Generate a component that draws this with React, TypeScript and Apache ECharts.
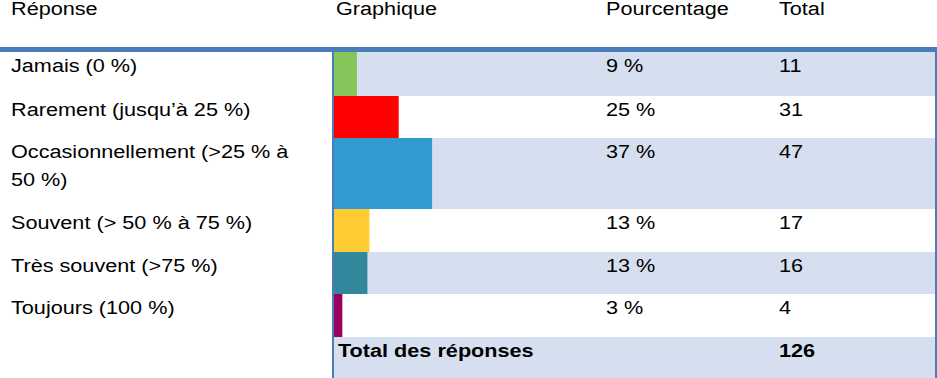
import React, { useEffect, useRef } from "react";
import * as echarts from "echarts";

// ---- data ----
const headers = ["Réponse", "Graphique", "Pourcentage", "Total"];
const responses = [
  "Jamais (0 %)",
  "Rarement (jusqu’à 25 %)",
  "Occasionnellement (>25 % à\n50 %)",
  "Souvent (> 50 % à 75 %)",
  "Très souvent (>75 %)",
  "Toujours (100 %)",
];
const percentLabels = ["9 %", "25 %", "37 %", "13 %", "13 %", "3 %"];
const totals = [11, 31, 47, 17, 16, 4];
const totalLabel = "Total des réponses";
const totalResponses = 126;
const barColors = ["#85C65A", "#FF0000", "#319BCF", "#FFCD33", "#31879B", "#99005F"];

// ---- layout / style ----
const ROW_HEIGHTS = [44, 42, 71, 43, 42, 43, 41];
const ROW_TOPS = ROW_HEIGHTS.map((_, i) => ROW_HEIGHTS.slice(0, i).reduce((a, b) => a + b, 0));
const TABLE_TOP = 52;
const TABLE_HEIGHT = ROW_HEIGHTS.reduce((a, b) => a + b, 0);
const COL_LABEL_X = 11;
const COL_GRAPH_X = 334;
const COL_PCT_X = 606;
const COL_TOTAL_X = 779;
const GRAPH_WIDTH = 263;
const BAND = "#D5DFEF";
const LINE = "#4A7EBA";
const FONT = '"Liberation Sans", Arial, sans-serif';
const FS = 19;
const SX = 1.14; // horizontal stretch of the reference's text
const BASE = 20.5; // baseline offset from row top
const LINE_H = 28;
const MID = 6.6; // baseline -> middle

export default function App() {
  const ref = useRef<HTMLDivElement>(null);
  useEffect(() => {
    if (!ref.current) return;
    const chart = echarts.init(ref.current, undefined, { renderer: "svg" });
    const data = responses.map((_, i) => [(totals[i] / totalResponses) * 100, i]);
    data.push([0, responses.length]);

    const txt = (x: number, y: number, text: string, bold = false, z?: number) => ({
      type: "text",
      x,
      y,
      scaleX: SX,
      scaleY: 1,
      ...(z !== undefined ? { z } : {}),
      style: {
        text,
        fill: "#000",
        fontSize: FS,
        lineHeight: 17,
        fontFamily: FONT,
        fontWeight: bold ? "bold" : "normal",
        align: "left",
        verticalAlign: "middle",
      },
    });

    const option: any = {
      animation: false,
      grid: { left: COL_GRAPH_X, top: TABLE_TOP, width: GRAPH_WIDTH, height: TABLE_HEIGHT, containLabel: false },
      xAxis: { type: "value", min: 0, max: 100, show: false },
      yAxis: { type: "value", min: 0, max: TABLE_HEIGHT, inverse: true, show: false },
      series: [
        {
          type: "custom",
          clip: false,
          data,
          renderItem: (params: any, api: any) => {
            const v = api.value(0);
            const i = api.value(1);
            const top = ROW_TOPS[i];
            const h = ROW_HEIGHTS[i];
            const p0 = api.coord([0, top]);
            const p1 = api.coord([v, top + h]);
            const W = api.getWidth();
            const children: any[] = [];
            if (i % 2 === 0) {
              children.push({
                type: "rect",
                shape: { x: p0[0], y: p0[1], width: W - 2 - p0[0], height: p1[1] - p0[1] },
                style: { fill: BAND },
              });
            }
            const baseY = p0[1] + BASE - MID;
            if (i < responses.length) {
              children.push({
                type: "rect",
                shape: { x: p0[0], y: p0[1], width: p1[0] - p0[0], height: p1[1] - p0[1] },
                style: { fill: barColors[i] },
              });
              responses[i].split("\n").forEach((line, k) => {
                children.push(txt(COL_LABEL_X, baseY + k * LINE_H, line));
              });
              children.push(txt(COL_PCT_X, baseY, percentLabels[i]));
              children.push(txt(COL_TOTAL_X, baseY, String(totals[i])));
            } else {
              children.push(txt(COL_GRAPH_X + 4, baseY, totalLabel, true));
              children.push(txt(COL_TOTAL_X, baseY, String(totalResponses), true));
            }
            return { type: "group", children };
          },
        },
      ],
      graphic: [
        ...headers.map((h, k) =>
          txt([COL_LABEL_X, COL_GRAPH_X + 2, COL_PCT_X, COL_TOTAL_X][k], 15.5 - MID, h, false, 10)
        ),
        { type: "rect", z: 100, shape: { x: 0, y: 47, width: 937, height: 5 }, style: { fill: LINE } },
        { type: "rect", z: 100, shape: { x: 935, y: 47, width: 2, height: 331 }, style: { fill: LINE } },
        { type: "rect", z: 100, shape: { x: 332, y: 52, width: 2, height: 326 }, style: { fill: LINE } },
      ],
    };
    chart.setOption(option);
    return () => chart.dispose();
  }, []);
  return (
    <div
      ref={ref}
      style={{ position: "fixed", left: 0, top: 0, width: 937, height: 378, background: "#fff" }}
    />
  );
}
